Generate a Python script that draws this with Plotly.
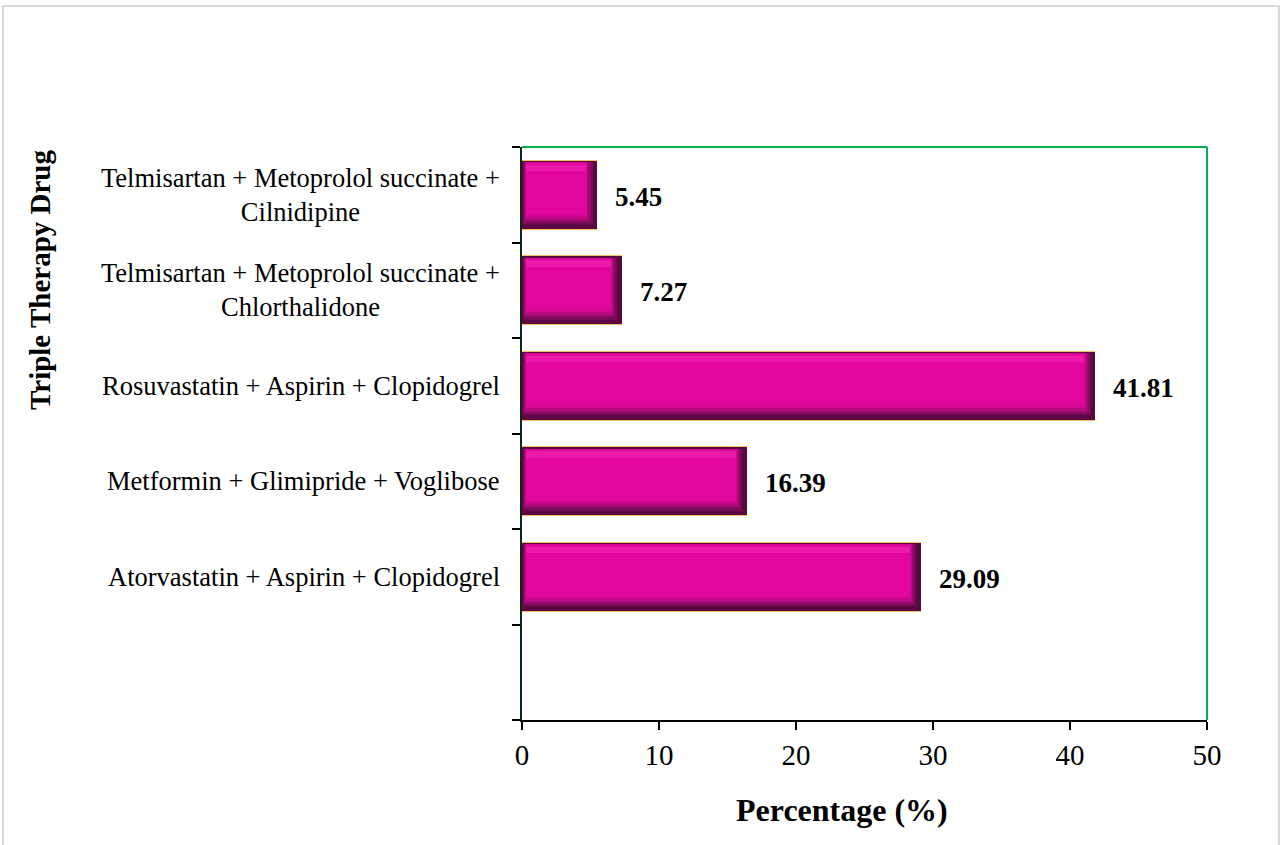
import numpy as np
import plotly.graph_objects as go

# Triple therapy combinations (bottom to top) and their share of prescriptions
drugs = [
    "Atorvastatin + Aspirin + Clopidogrel",
    "Metformin + Glimipride + Voglibose",
    "Rosuvastatin + Aspirin + Clopidogrel",
    "Telmisartan + Metoprolol succinate +<br>Chlorthalidone",
    "Telmisartan + Metoprolol succinate +<br>Cilnidipine",
]
percentages = [29.09, 16.39, 41.81, 7.27, 5.45]
x_ticks = [0, 10, 20, 30, 40, 50]

FONT = "Liberation Serif"
vals = np.array(percentages)
pos = np.arange(len(drugs)) + 1  # slot 0 is left empty at the bottom

fig = go.Figure()

# Bevelled bars built up from stacked layers (outline, dark body, gradient, face, highlight)
layers = [
    # (offset, width, right inset, left base, color)
    (-0.365, 0.73, 0.0, 0.0, "#F2C25E"),
    (-0.355, 0.71, 0.0, 0.0, "#5C0840"),
    (-0.310, 0.65, 0.30, 0.10, "#760B56"),
    (-0.285, 0.625, 0.45, 0.16, "#960A6C"),
    (-0.260, 0.60, 0.60, 0.22, "#B80882"),
    (-0.230, 0.57, 0.70, 0.26, "#D30792"),
    (-0.200, 0.53, 0.75, 0.28, "#E2079C"),
    (0.245, 0.07, 0.80, 0.30, "#EC1AAA"),
]
for off, w, inset, base, col in layers:
    fig.add_trace(go.Bar(
        x=vals - inset - base, y=pos, base=base, orientation="h",
        width=w, offset=off, marker=dict(color=col, line=dict(width=0)),
        hoverinfo="skip", showlegend=False,
    ))

# Value labels beside each bar
for v, p in zip(percentages, pos):
    fig.add_annotation(x=v, y=p, xref="x", yref="y", text=f"<b>{v:.2f}</b>",
                       showarrow=False, xanchor="left", yanchor="middle",
                       xshift=16, yshift=-2,
                       font=dict(family=FONT, size=27, color="black"))

# Category labels, centred lines, right-aligned to the axis
for d, p in zip(drugs, pos):
    fig.add_annotation(x=0, y=p, xref="paper", yref="y", text=d,
                       showarrow=False, xanchor="right", yanchor="middle",
                       align="center", xshift=-20,
                       font=dict(family=FONT, size=26.5, color="black"))

# Axis titles
fig.add_annotation(x=0, y=0.768, xref="paper", yref="paper",
                   text="<b>Triple Therapy Drug</b>", textangle=-90,
                   showarrow=False, xanchor="center", yanchor="middle",
                   xshift=-482, font=dict(family=FONT, size=29, color="black"))
fig.add_annotation(x=0.467, y=-0.157, xref="paper", yref="paper",
                   text="<b>Percentage (%)</b>",
                   showarrow=False, xanchor="center", yanchor="middle",
                   font=dict(family=FONT, size=32, color="black"))

# Green frame on top and right of the plot area
fig.add_shape(type="line", xref="paper", yref="paper", x0=0, x1=1, y0=1, y1=1,
              line=dict(color="#00B050", width=2))
fig.add_shape(type="line", xref="paper", yref="paper", x0=1, x1=1, y0=0, y1=1,
              line=dict(color="#00B050", width=2))
# Light grey outer border
fig.add_shape(type="rect", xref="paper", yref="paper",
              x0=-0.7577, x1=1.105, y0=-0.4, y1=1.246,
              line=dict(color="#D9D9D9", width=2), layer="below")

fig.update_layout(
    width=1282, height=845,
    margin=dict(l=522, r=75, t=147, b=125),
    paper_bgcolor="white", plot_bgcolor="white",
    barmode="overlay", bargap=0,
    showlegend=False,
    font=dict(family=FONT, color="black"),
)
fig.update_xaxes(
    range=[0, 50], tickvals=x_ticks, ticks="outside", ticklen=8,
    tickwidth=2, tickcolor="black",
    showline=True, linecolor="black", linewidth=2,
    showgrid=False, zeroline=False,
    tickfont=dict(family=FONT, size=29, color="black"),
)
fig.update_yaxes(
    range=[0.5 - 1, len(drugs) + 0.5],
    tickvals=np.arange(-0.5, len(drugs) + 1, 1.0), showticklabels=False,
    ticks="outside", ticklen=8, tickwidth=2, tickcolor="black",
    showline=True, linecolor="#0B2A14", linewidth=2,
    showgrid=False, zeroline=False,
)

fig.write_html("out.html")
